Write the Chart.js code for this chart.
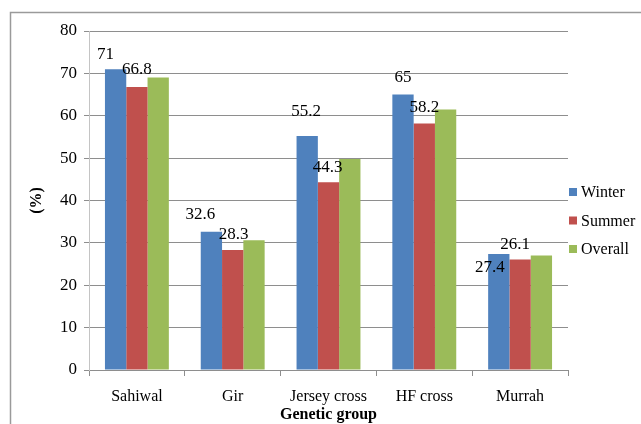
<!DOCTYPE html>
<html>
<head>
<meta charset="utf-8">
<script src="https://cdn.jsdelivr.net/npm/chart.js@4/dist/chart.umd.min.js"></script>
<style>
  html, body { margin: 0; padding: 0; background: #ffffff; }
  #wrap { width: 641px; height: 424px; }
</style>
</head>
<body>
<div id="wrap"><canvas id="c" width="641" height="424"></canvas></div>
<script>
// Genetic groups and percentages by season
const categories = ['Sahiwal', 'Gir', 'Jersey cross', 'HF cross', 'Murrah'];
const winter  = [71, 32.6, 55.2, 65, 27.4];
const summer  = [66.8, 28.3, 44.3, 58.2, 26.1];
const overall = [69.0, 30.6, 49.8, 61.5, 27.0];
const yTicks  = [0, 10, 20, 30, 40, 50, 60, 70, 80];

// Small label nudges (px) relative to the top-centre of each bar
const winterNudgeX = [-10, -11, -1, 0, -9];
const winterNudgeY = [-15, -17, -25, -17, 14];
const summerNudgeX = [0, 1, -1, 0, -5];
const summerNudgeY = [-17, -16, -15, -16, -15];

const SERIF = '"Liberation Serif", "Times New Roman", serif';
const colors = { Winter: '#4F81BD', Summer: '#C0504D', Overall: '#9BBB59' };

// White page with a grey frame around the figure
const framePlugin = {
  id: 'frame',
  beforeDraw(chart) {
    const ctx = chart.ctx;
    ctx.save();
    ctx.fillStyle = '#ffffff';
    ctx.fillRect(0, 0, chart.width, chart.height);
    ctx.strokeStyle = '#9a9a9a';
    ctx.lineWidth = 1.5;
    ctx.strokeRect(10.5, 12.5, chart.width + 40, chart.height + 40);
    ctx.restore();
  }
};

// Value labels above the Winter and Summer bars
const valueLabels = {
  id: 'valueLabels',
  afterDatasetsDraw(chart) {
    const ctx = chart.ctx;
    ctx.save();
    ctx.font = '17px ' + SERIF;
    ctx.fillStyle = '#000000';
    ctx.textAlign = 'center';
    ctx.textBaseline = 'middle';
    const sets = [
      { idx: 0, values: winter, dx: winterNudgeX, dy: winterNudgeY },
      { idx: 1, values: summer, dx: summerNudgeX, dy: summerNudgeY }
    ];
    sets.forEach(s => {
      const meta = chart.getDatasetMeta(s.idx);
      meta.data.forEach((bar, i) => {
        ctx.fillText(String(s.values[i]), bar.x + s.dx[i], bar.y + s.dy[i]);
      });
    });
    ctx.restore();
  }
};

// Legend to the right of the plot
const sideLegend = {
  id: 'sideLegend',
  afterDraw(chart) {
    const ctx = chart.ctx;
    const area = chart.chartArea;
    ctx.save();
    ctx.font = '16px ' + SERIF;
    ctx.textBaseline = 'middle';
    ctx.textAlign = 'left';
    const x0 = area.right + 1;
    const yMid = (area.top + area.bottom) / 2 + 20;
    const step = 28.5;
    chart.data.datasets.forEach((ds, i) => {
      const y = yMid + (i - 1) * step;
      ctx.fillStyle = ds.backgroundColor;
      ctx.fillRect(x0, y - 4, 8, 8);
      ctx.fillStyle = '#000000';
      ctx.fillText(ds.label, x0 + 12, y + 1);
    });
    ctx.restore();
  }
};

new Chart(document.getElementById('c'), {
  type: 'bar',
  data: {
    labels: categories,
    datasets: [
      { label: 'Winter',  data: winter,  backgroundColor: colors.Winter },
      { label: 'Summer',  data: summer,  backgroundColor: colors.Summer },
      { label: 'Overall', data: overall, backgroundColor: colors.Overall }
    ]
  },
  options: {
    responsive: false,
    animation: false,
    devicePixelRatio: 1,
    layout: { padding: { top: 31, right: 73, left: 0, bottom: 0 } },
    datasets: {
      bar: { categoryPercentage: 0.667, barPercentage: 1.0, borderWidth: 0 }
    },
    plugins: {
      legend: { display: false },
      tooltip: { enabled: false }
    },
    scales: {
      x: {
        grid: {
          offset: true,
          drawOnChartArea: false,
          drawTicks: true,
          tickLength: 6,
          color: '#8e8e8e'
        },
        border: { color: '#8e8e8e', width: 1 },
        ticks: {
          color: '#000000',
          font: { family: SERIF, size: 16 },
          padding: 11,
          maxRotation: 0
        },
        title: {
          display: true,
          text: 'Genetic group',
          color: '#000000',
          font: { family: SERIF, size: 16, weight: 'bold' },
          padding: { top: 0, bottom: 0 }
        },
        afterFit(scale) { scale.height = 54; }
      },
      y: {
        min: 0,
        max: 80,
        afterBuildTicks(scale) { scale.ticks = yTicks.map(v => ({ value: v })); },
        grid: {
          color: '#8e8e8e',
          tickLength: 5,
          drawTicks: true
        },
        border: { color: '#c4c4c4', width: 1 },
        ticks: {
          color: '#000000',
          font: { family: SERIF, size: 17 },
          padding: 7
        },
        title: {
          display: true,
          text: '(%)',
          color: '#000000',
          font: { family: SERIF, size: 16, weight: 'bold' },
          padding: { top: 27, bottom: 0 }
        },
        afterFit(scale) { scale.width = 89; }
      }
    }
  },
  plugins: [framePlugin, valueLabels, sideLegend]
});
</script>
</body>
</html>
